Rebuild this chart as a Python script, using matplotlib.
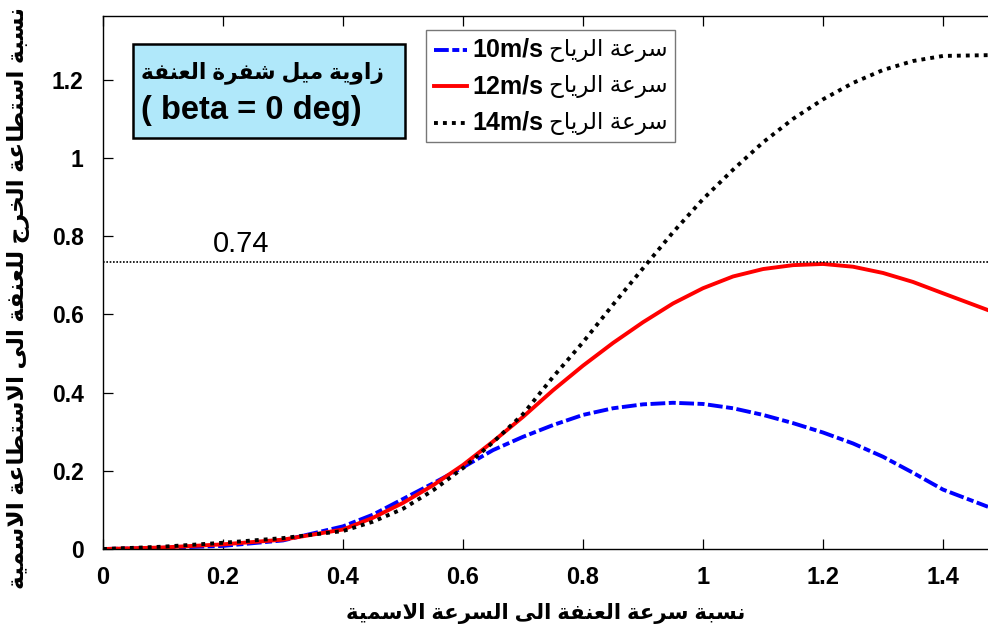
import numpy as np
import matplotlib
matplotlib.use('Agg')
import matplotlib.pyplot as plt
from matplotlib.lines import Line2D
from matplotlib.patches import Rectangle
from matplotlib.offsetbox import AnchoredOffsetbox, HPacker, VPacker, TextArea, DrawingArea

plt.rcParams['font.family'] = ['Liberation Sans', 'DejaVu Sans']

# ---- data ----
ratio = [0, 0.1, 0.2, 0.3, 0.4, 0.45, 0.5, 0.55, 0.6, 0.65, 0.7, 0.75, 0.8,
         0.85, 0.9, 0.95, 1.0, 1.05, 1.1, 1.15, 1.2, 1.25, 1.3, 1.35, 1.4, 1.475]
p10 = [0, 0.003, 0.008, 0.022, 0.058, 0.088, 0.128, 0.168, 0.209, 0.253, 0.287,
       0.317, 0.343, 0.360, 0.370, 0.374, 0.371, 0.360, 0.343, 0.322, 0.298,
       0.270, 0.236, 0.195, 0.152, 0.108]
p12 = [0, 0.004, 0.012, 0.024, 0.050, 0.080, 0.118, 0.163, 0.215, 0.275, 0.338,
       0.406, 0.469, 0.527, 0.580, 0.628, 0.667, 0.697, 0.716, 0.726, 0.729,
       0.722, 0.706, 0.683, 0.654, 0.611]
p14 = [0, 0.006, 0.016, 0.028, 0.046, 0.070, 0.103, 0.150, 0.207, 0.273, 0.345,
       0.440, 0.529, 0.625, 0.718, 0.810, 0.895, 0.970, 1.040, 1.100, 1.150,
       1.192, 1.225, 1.248, 1.261, 1.263]
ref_level = 0.734
speeds = ['10m/s', '12m/s', '14m/s']

xticks = [0, 0.2, 0.4, 0.6, 0.8, 1.0, 1.2, 1.4]
xticklabels = ['0', '0.2', '0.4', '0.6', '0.8', '1', '1.2', '1.4']
yticks = [0, 0.2, 0.4, 0.6, 0.8, 1.0, 1.2]
yticklabels = ['0', '0.2', '0.4', '0.6', '0.8', '1', '1.2']

# ---- tiny arabic shaper (presentation forms + visual order) ----
FORMS = {
    'ا': ('\uFE8D', '\uFE8E'), 'ة': ('\uFE93', '\uFE94'), 'ر': ('\uFEAD', '\uFEAE'),
    'ز': ('\uFEAF', '\uFEB0'), 'و': ('\uFEED', '\uFEEE'), 'ى': ('\uFEEF', '\uFEF0'),
    'ب': ('\uFE8F', '\uFE90', '\uFE91', '\uFE92'), 'ت': ('\uFE95', '\uFE96', '\uFE97', '\uFE98'),
    'ج': ('\uFE9D', '\uFE9E', '\uFE9F', '\uFEA0'), 'ح': ('\uFEA1', '\uFEA2', '\uFEA3', '\uFEA4'),
    'خ': ('\uFEA5', '\uFEA6', '\uFEA7', '\uFEA8'), 'س': ('\uFEB1', '\uFEB2', '\uFEB3', '\uFEB4'),
    'ش': ('\uFEB5', '\uFEB6', '\uFEB7', '\uFEB8'), 'ط': ('\uFEC1', '\uFEC2', '\uFEC3', '\uFEC4'),
    'ع': ('\uFEC9', '\uFECA', '\uFECB', '\uFECC'), 'ف': ('\uFED1', '\uFED2', '\uFED3', '\uFED4'),
    'ل': ('\uFEDD', '\uFEDE', '\uFEDF', '\uFEE0'), 'م': ('\uFEE1', '\uFEE2', '\uFEE3', '\uFEE4'),
    'ن': ('\uFEE5', '\uFEE6', '\uFEE7', '\uFEE8'), 'ي': ('\uFEF1', '\uFEF2', '\uFEF3', '\uFEF4'),
}


def ar(s):
    seq = []
    i = 0
    while i < len(s):
        if s[i] == 'ل' and i + 1 < len(s) and s[i + 1] == 'ا':
            seq.append('LA')
            i += 2
        else:
            seq.append(s[i])
            i += 1
    out = []
    for k, c in enumerate(seq):
        if c != 'LA' and c not in FORMS:
            out.append(c)
            continue
        prev = seq[k - 1] if k > 0 else None
        nxt = seq[k + 1] if k + 1 < len(seq) else None
        p = prev in FORMS and len(FORMS[prev]) == 4
        if c == 'LA':
            out.append('\uFEFC' if p else '\uFEFB')
            continue
        f = FORMS[c]
        n = len(f) == 4 and nxt is not None and (nxt == 'LA' or nxt in FORMS)
        if p and n:
            out.append(f[3])
        elif p:
            out.append(f[1])
        elif n:
            out.append(f[2])
        else:
            out.append(f[0])
    return ''.join(out)[::-1]


xlab = ar('نسبة سرعة العنفة الى السرعة الاسمية')
ylab = ar('نسبة استطاعة الخرج للعنفة الى الاستطاعة الاسمية')
boxtitle = ar('زاوية ميل شفرة العنفة')
windlab = ar('سرعة الرياح')

fig = plt.figure(figsize=(9.88, 6.37), dpi=100)
ax = fig.add_axes([0.1043, 0.1381, 0.8957, 0.8367])

dashdot = (0, (3.8, 0.9, 1.8, 0.9))
dotted = (0, (1, 1.3))
ax.plot(ratio, p10, color='#0000ff', lw=2.8, ls=dashdot)
ax.plot(ratio, p12, color='#ff0000', lw=2.8, ls='-')
ax.plot(ratio, p14, color='k', lw=2.8, ls=dotted)
ax.axhline(ref_level, color='k', lw=1.2, ls=(0, (1, 1)))
ax.text(0.183, 0.78, '0.74', fontsize=21, ha='left', va='center')

ax.set_xlim(0, 1.475)
ax.set_ylim(0, 1.363)
ax.set_xticks(xticks)
ax.set_xticklabels(xticklabels, fontsize=17, fontweight='bold')
ax.set_yticks(yticks)
ax.set_yticklabels(yticklabels, fontsize=16.5, fontweight='bold')
ax.tick_params(direction='in', length=7, width=0.9, top=True, right=False)
ax.tick_params(axis='x', pad=12)
ax.tick_params(axis='y', pad=14)
ax.spines['right'].set_visible(False)
for s in ['left', 'top', 'bottom']:
    ax.spines[s].set_linewidth(1.0)

ax.set_xlabel(xlab, fontsize=15.3, fontweight='bold', labelpad=10)
ax.set_ylabel(ylab, fontsize=16.8, fontweight='bold', va='center')
ax.yaxis.set_label_coords(-0.095, 0.471)

# annotation box
ax.add_patch(Rectangle((0.0339, 0.7711), 0.3073, 0.1764, transform=ax.transAxes,
                       facecolor='#b0e8fa', edgecolor='k', lw=1.8, zorder=5))
ax.text(0.043, 0.893, boxtitle, transform=ax.transAxes, fontsize=15.7,
        fontweight='bold', ha='left', va='center', zorder=6)
ax.text(0.043, 0.8236, '( beta = 0 deg)', transform=ax.transAxes, fontsize=23.5,
        fontweight='bold', ha='left', va='center', zorder=6)

# legend
rows = []
for sp, c, ls in zip(speeds, ['#0000ff', '#ff0000', 'k'], [dashdot, '-', dotted]):
    da = DrawingArea(24, 12)
    da.add_artist(Line2D([0, 24], [6, 6], color=c, lw=2.8, ls=ls))
    t1 = TextArea(sp, textprops=dict(fontsize=18, fontweight='bold'))
    t2 = TextArea(windlab, textprops=dict(fontsize=16.5))
    rows.append(HPacker(children=[da, t1, t2], sep=4, align='center', pad=0))
box = VPacker(children=rows, sep=9, align='left', pad=0)
leg = AnchoredOffsetbox(loc='upper left', child=box, pad=0.55, borderpad=0,
                        bbox_to_anchor=(0.365, 0.974), bbox_transform=ax.transAxes,
                        frameon=True)
leg.patch.set_edgecolor('#777777')
leg.patch.set_linewidth(1.0)
leg.set_zorder(7)
ax.add_artist(leg)

fig.savefig('out.png', dpi=100)
